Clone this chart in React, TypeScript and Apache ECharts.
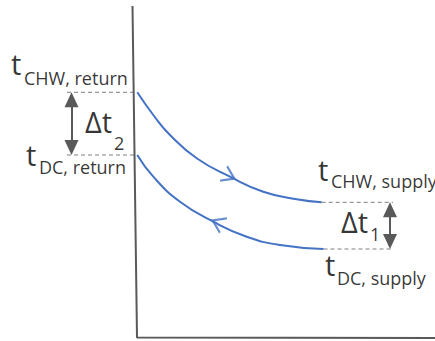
import React, { useEffect, useRef } from "react";
import * as echarts from "echarts";

const W = 435;
const H = 341;

// axis frame (vertical axis then horizontal axis)
const frameLine = [[132.5, 6], [137, 337.5], [435, 338]];

// chilled water curve (return -> supply)
const chwCurve = [
  [137.3, 92.3], [153.3, 115], [170, 135], [196.7, 158.3],
  [230, 176.7], [263.3, 191.7], [296.7, 199.3], [321.7, 202.3],
];
// district cooling curve (supply -> return)
const dcCurve = [
  [137.3, 155], [153.3, 176.7], [180, 201.7], [213.3, 221.7],
  [246.7, 236.7], [280, 245], [323.5, 249],
];

// dashed guide lines
const guideLines = [
  [[67, 92.3], [137.3, 92.3]],
  [[67, 155], [137.3, 155]],
  [[321.7, 202.3], [393, 202.3]],
  [[323.5, 249], [393, 249]],
];

// double-headed delta arrows
const deltaArrows = [
  [[71.5, 92.3], [71.5, 155]],
  [[390, 202.3], [390, 249]],
];

// flow direction chevrons: x, y, rotation
const flowMarks = [
  [229, 176, -26],
  [218, 223, 154],
];

// text pieces: text, left x, baseline y, size ("main" | "sub")
const labelPieces: [string, number, number, string][] = [
  ["t", 11, 75, "main"],
  ["CHW, return", 24, 85, "sub"],
  ["t", 26, 166, "main"],
  ["DC, return", 39, 174, "sub"],
  ["Δt", 85, 133, "main"],
  ["2", 114, 150, "sub"],
  ["t", 318, 181, "main"],
  ["CHW, supply", 331, 188, "sub"],
  ["Δt", 341, 233, "main"],
  ["1", 370, 241, "sub"],
  ["t", 325, 276, "main"],
  ["DC, supply", 337, 285, "sub"],
];

const FONT = "Open Sans";
const SIZES: Record<string, number> = { main: 29, sub: 18 };
const BLUE = "#4472C4";
const GREY = "#595959";

export default function App() {
  const ref = useRef<HTMLDivElement>(null);
  useEffect(() => {
    document.body.style.margin = "0";
    if (!ref.current) return;
    const chart = echarts.init(ref.current, undefined, { renderer: "svg" });
    const headLen = 15;
    const series: any[] = [
      {
        type: "line",
        data: frameLine,
        symbol: "none",
        lineStyle: { color: GREY, width: 2 },
        z: 2,
      },
      {
        type: "line",
        data: chwCurve,
        symbol: "none",
        smooth: 0.5,
        lineStyle: { color: BLUE, width: 2 },
        z: 3,
      },
      {
        type: "line",
        data: dcCurve,
        symbol: "none",
        smooth: 0.5,
        lineStyle: { color: BLUE, width: 2 },
        z: 3,
      },
      ...guideLines.map((seg) => ({
        type: "line",
        data: seg,
        symbol: "none",
        lineStyle: { color: "#7F7F7F", width: 1, type: [4, 3] },
        z: 1,
      })),
      {
        type: "line",
        data: [],
        markLine: {
          silent: true,
          symbol: ["triangle", "triangle"],
          symbolSize: [14, headLen],
          label: { show: false },
          lineStyle: { color: GREY, width: 2, type: "solid" },
          itemStyle: { color: GREY },
          data: deltaArrows.map(([a, b]) => [
            { coord: [a[0], a[1] + headLen / 2] },
            { coord: [b[0], b[1] - headLen / 2] },
          ]),
        },
        z: 4,
      },
      {
        type: "scatter",
        data: flowMarks.map(([x, y, r]) => ({
          value: [x, y],
          symbolRotate: r,
        })),
        symbol: "path://M0,0L10,6L0,12",
        symbolSize: [12, 16],
        itemStyle: { color: "transparent", borderColor: BLUE, borderWidth: 2 },
        z: 4,
      },
      {
        type: "scatter",
        symbolSize: 0.1,
        itemStyle: { color: "transparent" },
        z: 5,
        data: labelPieces.map(([text, x, bl, s]) => {
          const size = SIZES[s];
          return {
            value: [x, bl - 0.388 * size],
            label: {
              show: true,
              formatter: text,
              position: [0, 0],
              align: "left",
              verticalAlign: "middle",
              fontFamily: FONT,
              fontSize: size,
              color: "#000",
            },
          };
        }),
      },
    ];
    chart.setOption({
      animation: false,
      grid: { left: 0, right: 0, top: 0, bottom: 0, containLabel: false },
      xAxis: { type: "value", min: 0, max: W, show: false },
      yAxis: { type: "value", min: 0, max: H, inverse: true, show: false },
      series,
    });
    return () => chart.dispose();
  }, []);
  return <div ref={ref} style={{ width: W, height: H }} />;
}
